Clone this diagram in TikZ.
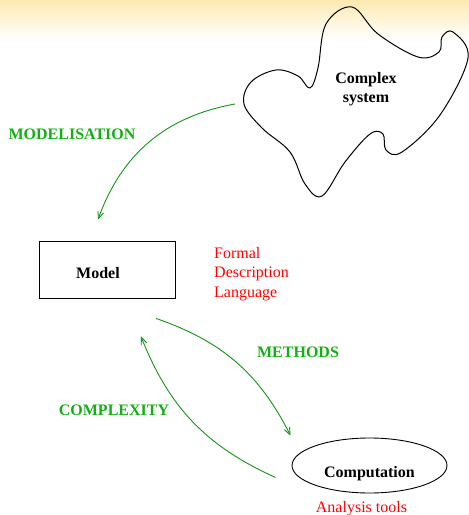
\documentclass[tikz,border=0pt]{standalone}
\usepackage{fontspec}
\setmainfont{Liberation Serif}
\usepackage{xcolor}
\definecolor{LabelGreen}{RGB}{20,175,20}
\definecolor{ArrowGreen}{RGB}{20,150,20}
\definecolor{NoteRed}{RGB}{255,0,0}
\definecolor{TopShade}{RGB}{253,234,178}
\usetikzlibrary{positioning, shapes.geometric, arrows.meta}
\newcommand{\sz}{\fontsize{16}{19.5}\selectfont}

\begin{document}
\begin{tikzpicture}[
    x=1pt, y=-1pt,
    box/.style={rectangle, draw, line width=0.9pt, minimum width=136pt, minimum height=57pt, inner sep=0pt, font=\sz\bfseries},
    oval/.style={ellipse, draw, line width=0.9pt, minimum width=155pt, minimum height=55pt, inner sep=0pt, font=\sz\bfseries},
    flow/.style={-{Straight Barb[length=7pt, width=6pt]}, ArrowGreen, line width=0.9pt},
    lbl/.style={text=LabelGreen, font=\sz\bfseries, inner sep=0pt},
    note/.style={text=NoteRed, align=left, inner sep=0pt, font=\sz},
]
\useasboundingbox (0,0) rectangle (469,515);

% Shaded top band
\shade[top color=TopShade, bottom color=white] (0,0) rectangle (469,40);

% Complex system
\draw[line width=1pt] plot[smooth cycle, tension=0.6] coordinates {
    (310,88) (318,68) (326,24) (352,7) (378,34) (418,57) (439,52)
    (442,37) (453,32) (468,58) (440,115) (402,152) (386,150) (383,134)
    (370,134) (345,162) (322,196) (305,184) (290,152) (262,128)
    (244,104) (251,82) (276,70) (298,76)};
\node[font=\fontsize{16}{18.5}\selectfont\bfseries, align=center] (sys) at (366,89) {Complex\\system};
\coordinate (sys-w) at (235,104);

% Model
\node[box] (model) at (107,269.5) {\hspace{-18pt}\raisebox{-9pt}[0pt][0pt]{Model}};
\node[note, anchor=west] (fdl) at (214,274) {Formal\\Description\\Language};

% Computation
\node[oval] (comp) at (369.5,465.5) {\raisebox{-12pt}[0pt][0pt]{Computation}};
\node[note, below=8pt of comp, xshift=-8pt] (tools) {Analysis tools};

% Arrow ends
\coordinate (model-in) at ([xshift=-9pt, yshift=21pt]model.north);
\coordinate (model-out) at ([xshift=49pt, yshift=-20pt]model.south);
\coordinate (model-back) at ([xshift=34pt, yshift=-38pt]model.south);
\coordinate (comp-in) at ([xshift=-1pt, yshift=30pt]comp.west);
\coordinate (comp-out) at ([xshift=-16pt, yshift=-12pt]comp.west);

% Arrows
\draw[flow] (sys-w) to[bend right=30] (model-in);
\draw[flow] (model-out) to[bend left=22] (comp-in);
\draw[flow] (comp-out) to[bend left=22] (model-back);

% Labels
\node[lbl] (modlabel) at (72,134) {MODELISATION};
\node[lbl] (methlabel) at (298,352) {METHODS};
\node[lbl] (cplxlabel) at (114,410) {COMPLEXITY};

\end{tikzpicture}
\end{document}
